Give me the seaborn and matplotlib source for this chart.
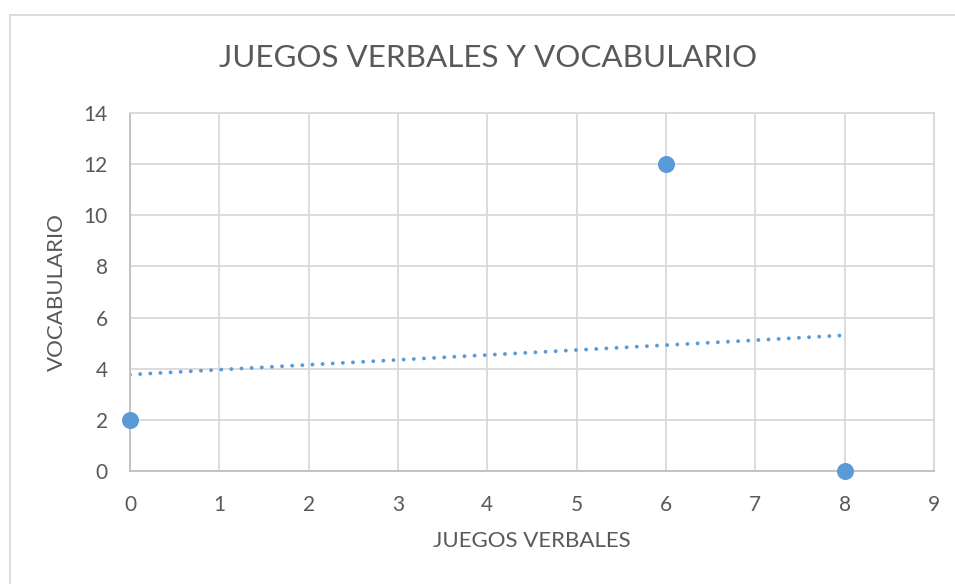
import matplotlib
matplotlib.use("Agg")
import matplotlib.pyplot as plt
import seaborn as sns
import numpy as np
import pandas as pd
from matplotlib.lines import Line2D

juegos_verbales = [0, 6, 8]
vocabulario = [2, 12, 0]
x_ticks = [0, 1, 2, 3, 4, 5, 6, 7, 8, 9]
y_ticks = [0, 2, 4, 6, 8, 10, 12, 14]
title = "JUEGOS VERBALES Y VOCABULARIO"
xlabel = "JUEGOS VERBALES"
ylabel = "VOCABULARIO"

df = pd.DataFrame({"x": juegos_verbales, "y": vocabulario})

sns.set_theme(style="white")
plt.rcParams['font.family'] = ['Lato', 'DejaVu Sans']

blue = "#5b9bd5"
txt = "#595959"
grid = "#d9d9d9"

fig = plt.figure(figsize=(9.55, 5.84), dpi=100)
ax = fig.add_axes([130/955, 1-471/584, (934-130)/955, (471-113)/584])

sns.regplot(data=df, x="x", y="y", scatter=False, ci=None, truncate=True, ax=ax,
            line_kws=dict(color=blue, linestyle=(0, (0.01, 2.6)), linewidth=2.8,
                          dash_capstyle='round'))
sns.scatterplot(data=df, x="x", y="y", ax=ax, color=blue, s=150, edgecolor=blue,
                linewidth=0, zorder=5, clip_on=False)

ax.set_xlim(0, 9)
ax.set_ylim(0, 14)
ax.set_xticks(x_ticks)
ax.set_yticks(y_ticks)
ax.grid(True, color=grid, linewidth=1.3)
ax.set_axisbelow(True)
for s in ["top", "right"]:
    ax.spines[s].set_color(grid)
    ax.spines[s].set_linewidth(1.3)
for s in ["left", "bottom"]:
    ax.spines[s].set_color("#bfbfbf")
    ax.spines[s].set_linewidth(1.3)
ax.tick_params(axis="both", length=0, labelsize=15, labelcolor=txt)
ax.tick_params(axis="x", pad=17)
ax.tick_params(axis="y", pad=16)
ax.set_xlabel(xlabel, fontsize=16, color=txt, labelpad=12)
ax.set_ylabel(ylabel, fontsize=16, color=txt, labelpad=12)
fig.text((220+757)/2/955, 1-58/584, title, ha="center", va="center", fontsize=22.6, color=txt)

# outer chart border (partially visible)
fig.add_artist(Line2D([9.5/955, 9.5/955], [0, 1-14.5/584], transform=fig.transFigure,
                      color="#d9d9d9", linewidth=1.3))
fig.add_artist(Line2D([9.5/955, 1], [1-14.5/584, 1-14.5/584], transform=fig.transFigure,
                      color="#d9d9d9", linewidth=1.3))

fig.savefig("out.png", dpi=100, facecolor="white")
